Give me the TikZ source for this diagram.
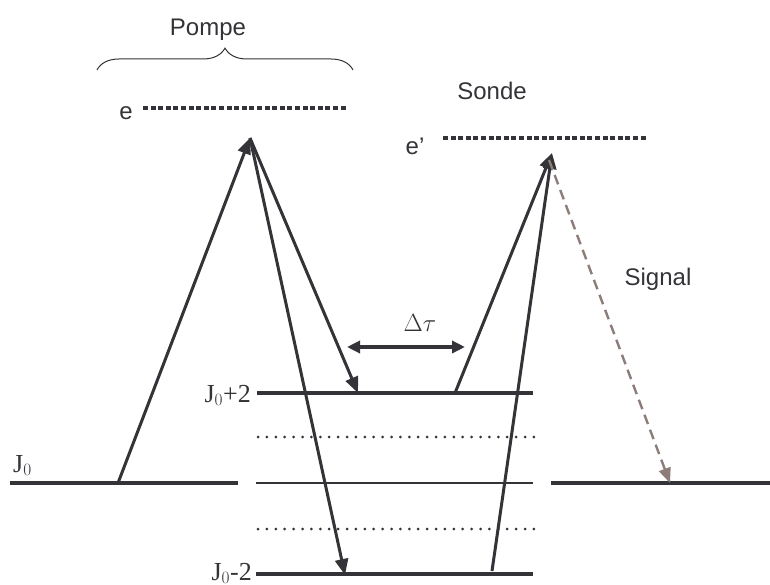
\documentclass[tikz,border=0pt]{standalone}
\usepackage{fontspec}
\setmainfont{Liberation Serif}
\setsansfont{Liberation Sans}
\usetikzlibrary{arrows.meta,decorations.pathreplacing}

\definecolor{ink}{RGB}{51,51,56}
\definecolor{signalgray}{RGB}{140,125,122}

\tikzset{
  level/.style={draw=ink,line width=4pt},
  thinlevel/.style={draw=ink,line width=1.8pt},
  virtual/.style={draw=ink,line width=3.6pt,dash pattern=on 5pt off 2.6pt},
  sublevel/.style={draw=ink,line width=3pt,line cap=round,dash pattern=on 0pt off 8.9pt},
  beam/.style={draw=ink,line width=3pt,-{Triangle[length=16pt,width=13pt]}},
  emitted/.style={draw=signalgray,line width=2.4pt,dash pattern=on 10pt off 6pt,
    -{Triangle[length=15pt,width=12pt]}},
  comic/.style={font=\sffamily\fontsize{24}{28}\selectfont,text=ink,inner sep=0pt},
  roman/.style={font=\fontsize{26}{30}\selectfont,text=ink,inner sep=0pt}
}

\begin{document}
\begin{tikzpicture}[x=1pt,y=-1pt,line join=round]
  \useasboundingbox (0,0) rectangle (770,585);

  % Excited (virtual) states e and e'.
  \draw[virtual] (143,108) coordinate (eL) -- (347,108) coordinate (eR);
  \draw[virtual] (443,138) coordinate (epL) -- (647,138) coordinate (epR);
  \node[comic,anchor=base] (elab) at (126,120) {e};
  \node[comic,anchor=base] (eplab) at (415,155) {e'};

  % Pump brace and the two pulse labels.
  \draw[ink,line width=1pt,decorate,decoration={brace,amplitude=22pt}]
    (97,70) -- (353,70);
  \node[comic,anchor=base] (pompe) at (208,36) {Pompe};
  \node[comic,anchor=base] (sonde) at (492,100) {Sonde};
  \node[comic,anchor=base] (signal) at (658,285) {Signal};

  % Rotational levels J0-2, J0, J0+2 and the intermediate dotted ones.
  \draw[level] (10,483) coordinate (JaL) -- (238,483) coordinate (JaR);
  \draw[thinlevel] (256,483) coordinate (JbL) -- (533,483) coordinate (JbR);
  \draw[level] (551,483) coordinate (JcL) -- (770,483) coordinate (JcR);
  \draw[level] (257,393) coordinate (JpL) -- (533,393) coordinate (JpR);
  \draw[level] (256,574) coordinate (JmL) -- (533,574) coordinate (JmR);
  \foreach \y in {437,529}
    \draw[sublevel] (258,\y) -- (535,\y);

  \node[roman,anchor=base west] (j0) at (13,472) {J$_0$};
  \node[roman,anchor=base east] (jp) at (251,402) {J$_0$+2};
  \node[roman,anchor=base east] (jm) at (252,580) {J$_0$-2};

  % Beam end points.
  \coordinate (pumpA) at (118,483);
  \coordinate (pumpT) at (250,138);
  \coordinate (pumpP) at (358,393);
  \coordinate (pumpM) at (345,575);
  \coordinate (probeP) at (455,393);
  \coordinate (probeM) at (492,571);
  \coordinate (probeT) at (552,153);
  \coordinate (sigS) at (549,160);
  \coordinate (sigE) at (670,483);

  % Pump: up to e, then down to J0+2 and J0-2.
  \draw[beam] (pumpA) -- (pumpT);
  \draw[beam] (pumpT) -- (pumpP);
  \draw[beam] (pumpT) -- (pumpM);

  % Probe: up to e', and the emitted signal.
  \draw[beam] (probeP) -- (probeT);
  \draw[beam] (probeM) -- (probeT);
  \draw[emitted] (sigS) -- (sigE);

  % Delay between the pulses.
  \coordinate (dtL) at (347,347);
  \coordinate (dtR) at (465,347);
  \draw[ink,line width=3.4pt,{Triangle[length=13pt,width=12pt]}-{Triangle[length=13pt,width=12pt]}]
    (dtL) -- (dtR);
  \node[roman,anchor=base,font=\fontsize{24}{28}\selectfont] (dtau) at (420,331) {$\Delta\tau$};
\end{tikzpicture}
\end{document}
